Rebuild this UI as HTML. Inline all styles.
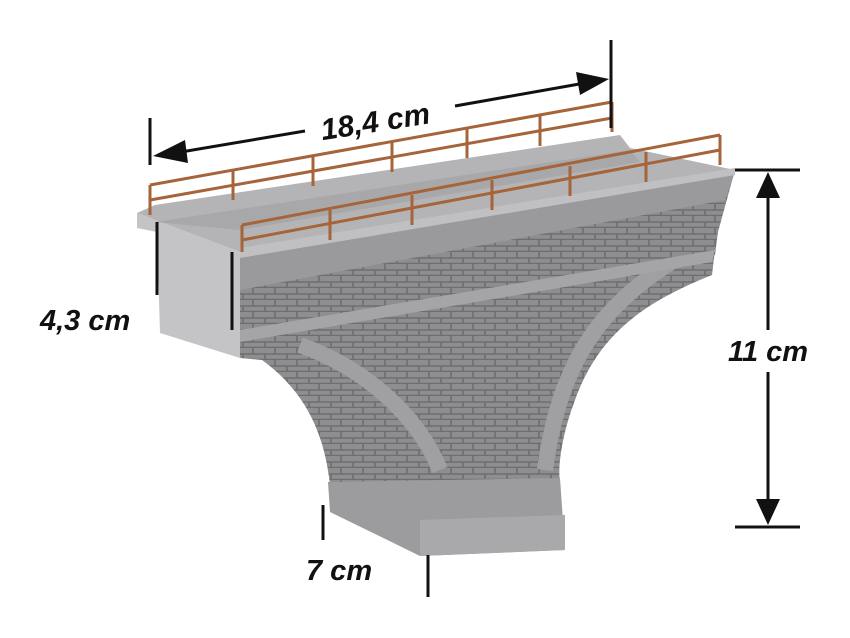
<!DOCTYPE html>
<html><head><meta charset="utf-8"><style>
html,body{margin:0;padding:0;background:#fff;width:850px;height:638px;overflow:hidden}
svg{display:block}
text{font-family:"Liberation Sans",sans-serif;font-weight:bold;font-style:italic;fill:#111}
</style></head><body>
<svg width="850" height="638" viewBox="0 0 850 638" xmlns="http://www.w3.org/2000/svg">
<defs>
<pattern id="brick" width="22" height="12" patternUnits="userSpaceOnUse">
<rect width="22" height="12" fill="#8e8e91"/>
<path d="M0 11.5H22M11 0V6M0 6H22M1 6V12" stroke="#6e6e71" stroke-width="1.6"/>
</pattern>
</defs>
<!-- pier -->
<path d="M240 358 L262 330 L715 250 L712 275 C650 300 600 330 575 400 C560 440 558 470 560 482 L330 485 C325 440 310 395 262 360 Z" fill="url(#brick)"/>
<path d="M300 345 C370 370 420 420 440 470" stroke="#a0a0a3" stroke-width="16" fill="none"/>
<path d="M700 245 C600 300 560 360 545 470" stroke="#a0a0a3" stroke-width="16" fill="none"/>
<!-- base -->
<path d="M328 482 L560 478 L565 550 L420 556 L330 512 Z" fill="#9c9c9f"/>
<path d="M420 520 L565 515 L565 550 L420 556 Z" fill="#a9a9ac"/>
<!-- left end face -->
<polygon points="137,213 240,252 240,358 160,333 157,232 137,228" fill="#c4c4c6"/>
<!-- front face -->
<polygon points="240,255 735,170 718,232 715,255 262,335 240,358" fill="url(#brick)"/>
<polygon points="240,258 735,172 725,200 240,290" fill="#9a9a9d"/>
<polygon points="240,330 715,250 712,262 240,342" fill="#a5a5a8"/>
<!-- top surface -->
<polygon points="137,213 155,205 620,135 630,148 735,170 240,255 240,252" fill="#b4b4b7"/>
<polygon points="155,222 630,150 640,162 240,230" fill="#a8a8ab"/>
<polygon points="240,248 735,168 735,175 240,258" fill="#c0c0c2"/>
<!-- rails -->
<g stroke="#a5643a" stroke-width="3" fill="none">
<path d="M150 185 L612 102 M150 200 L612 118"/>
<path d="M150 185V215 M233 170V200 M313 156V186 M392 142V172 M467 128V158 M540 116V146 M612 102V132"/>
<path d="M242 225 L720 135 M242 240 L720 150"/>
<path d="M242 225V252 M330 210V240 M412 195V225 M492 180V210 M570 166V196 M646 152V182 M720 135V165"/>
</g>
<!-- dimension lines -->
<g stroke="#111" stroke-width="3" fill="none">
<path d="M150 118V165 M611 40V128"/>
<path d="M175 153 L305 131 M455 106 L585 83"/>
<path d="M157 222V295 M232 252V330"/>
<path d="M735 170H800 M735 527H800 M768 190V330 M768 372V508"/>
<path d="M323 505V540 M428 555V597"/>
</g>
<polygon points="153,156 185,140 188,163" fill="#111"/>
<polygon points="609,79 576,72 580,95" fill="#111"/>
<polygon points="768,172 756,198 780,198" fill="#111"/>
<polygon points="768,525 756,499 780,499" fill="#111"/>
<text x="320" y="131" font-size="30" transform="rotate(-9 380 120)">18,4 cm</text>
<text x="40" y="330" font-size="29">4,3 cm</text>
<text x="728" y="361" font-size="29">11 cm</text>
<text x="306" y="580" font-size="29">7 cm</text>
</svg>
</body></html>
